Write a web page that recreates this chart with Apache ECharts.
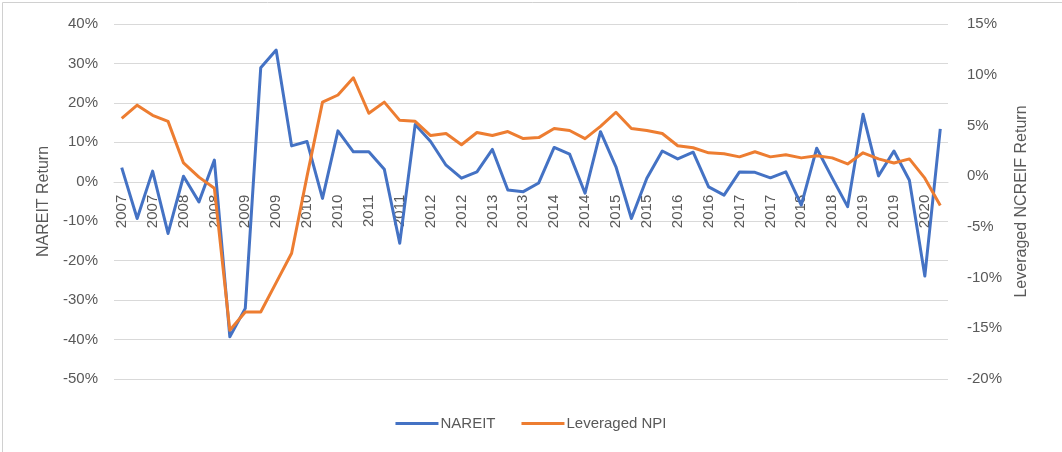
<!DOCTYPE html>
<html>
<head>
<meta charset="utf-8">
<script src="https://cdn.jsdelivr.net/npm/echarts@6/dist/echarts.min.js"></script>
<style>
html,body{margin:0;padding:0;background:#fff;}
#chart{width:1062px;height:452px;}
</style>
</head>
<body>
<div id="chart"></div>
<script>
// Quarterly 2007Q1 .. 2020Q2, axis shows the year
const categories = [
  "2007","2007","2007","2007",
  "2008","2008","2008","2008",
  "2009","2009","2009","2009",
  "2010","2010","2010","2010",
  "2011","2011","2011","2011",
  "2012","2012","2012","2012",
  "2013","2013","2013","2013",
  "2014","2014","2014","2014",
  "2015","2015","2015","2015",
  "2016","2016","2016","2016",
  "2017","2017","2017","2017",
  "2018","2018","2018","2018",
  "2019","2019","2019","2019",
  "2020","2020"
];
// NAREIT quarterly return (%), left axis
const nareit = [
  3.6, -9.3, 2.7, -13.1, 1.4, -5.1, 5.5, -39.3,
  -32.1, 28.9, 33.4, 9.1, 10.2, -4.2, 12.9, 7.6,
  7.6, 3.2, -15.6, 14.5, 10.2, 4.2, 0.9, 2.5,
  8.2, -2.1, -2.5, -0.3, 8.7, 7.0, -2.9, 12.7,
  3.8, -9.3, 0.9, 7.8, 5.8, 7.5, -1.3, -3.4,
  2.5, 2.4, 1.0, 2.5, -5.9, 8.5, 1.0, -6.3,
  17.1, 1.5, 7.8, 0.4, -23.9, 13.4
];
// Leveraged NPI quarterly return (%), right axis
const leveragedNPI = [
  5.7, 7.0, 6.0, 5.4, 1.3, -0.1, -1.2, -15.2,
  -13.4, -13.4, -10.5, -7.6, 0.0, 7.3, 8.0, 9.7,
  6.2, 7.3, 5.5, 5.4, 4.0, 4.2, 3.1, 4.3,
  4.0, 4.4, 3.7, 3.8, 4.7, 4.5, 3.7, 4.9,
  6.3, 4.7, 4.5, 4.2, 3.0, 2.8, 2.3, 2.2,
  1.9, 2.4, 1.9, 2.1, 1.8, 2.0, 1.8, 1.2,
  2.3, 1.7, 1.3, 1.7, -0.2, -2.9
];
const seriesNames = ["NAREIT", "Leveraged NPI"];
const leftAxisName = "NAREIT Return";
const rightAxisName = "Leveraged NCREIF Return";
const leftMin = -50, leftMax = 40, leftStep = 10;
const rightMin = -20, rightMax = 15, rightStep = 5;

const FONT = "'Liberation Sans', Arial, sans-serif";
const TXT = "#595959";
const GRID = "#d9d9d9";

const gridTop = 24, gridBottom = 73, H = 452;
const plotH = H - gridTop - gridBottom;
// place the category axis where the left axis crosses zero (as in the original)
const zeroOffset = -plotH * (0 - leftMin) / (leftMax - leftMin);

const chart = echarts.init(document.getElementById('chart'), null, {renderer: 'canvas'});
chart.setOption({
  animation: false,
  backgroundColor: '#fff',
  textStyle: {fontFamily: FONT},
  graphic: [{
    type: 'rect', left: 0, top: 0, silent: true,
    shape: {x: 0.5, y: 0.5, width: 1061, height: 451},
    style: {fill: 'none', stroke: '#d0d0d0', lineWidth: 1}
  }],
  grid: {left: 114, right: 114, top: gridTop, bottom: gridBottom, containLabel: false},
  legend: {
    data: seriesNames,
    left: 'center', top: 411,
    icon: 'rect', itemWidth: 43, itemHeight: 3, itemGap: 26,
    textStyle: {color: TXT, fontSize: 15, fontFamily: FONT, padding: [0, 0, 0, -3]}
  },
  xAxis: {
    type: 'category',
    data: categories,
    position: 'bottom',
    offset: zeroOffset,
    boundaryGap: true,
    axisLine: {show: true, onZero: false, lineStyle: {color: GRID, width: 1}},
    axisTick: {show: false},
    axisLabel: {interval: 1, rotate: 90, margin: 13, color: TXT, fontSize: 15, fontFamily: FONT},
    splitLine: {show: false}
  },
  yAxis: [{
    type: 'value', position: 'left',
    min: leftMin, max: leftMax, interval: leftStep,
    name: leftAxisName, nameLocation: 'middle', nameGap: 62, nameRotate: 90,
    nameTextStyle: {color: TXT, fontSize: 16, fontFamily: FONT},
    axisLine: {show: false}, axisTick: {show: false},
    axisLabel: {formatter: '{value}%', color: TXT, fontSize: 15, margin: 16, fontFamily: FONT},
    splitLine: {show: true, lineStyle: {color: GRID, width: 1}}
  }, {
    type: 'value', position: 'right',
    min: rightMin, max: rightMax, interval: rightStep,
    name: rightAxisName, nameLocation: 'middle', nameGap: 66, nameRotate: 90,
    nameTextStyle: {color: TXT, fontSize: 16, fontFamily: FONT},
    axisLine: {show: false}, axisTick: {show: false},
    axisLabel: {formatter: '{value}%', color: TXT, fontSize: 15, margin: 19, fontFamily: FONT},
    splitLine: {show: false}
  }],
  series: [{
    name: seriesNames[0], type: 'line', yAxisIndex: 0,
    data: nareit, showSymbol: false, symbol: 'none',
    lineStyle: {color: '#4472C4', width: 3, join: 'round'},
    itemStyle: {color: '#4472C4'}
  }, {
    name: seriesNames[1], type: 'line', yAxisIndex: 1,
    data: leveragedNPI, showSymbol: false, symbol: 'none',
    lineStyle: {color: '#ED7D31', width: 3, join: 'round'},
    itemStyle: {color: '#ED7D31'}
  }]
});
</script>
</body>
</html>
